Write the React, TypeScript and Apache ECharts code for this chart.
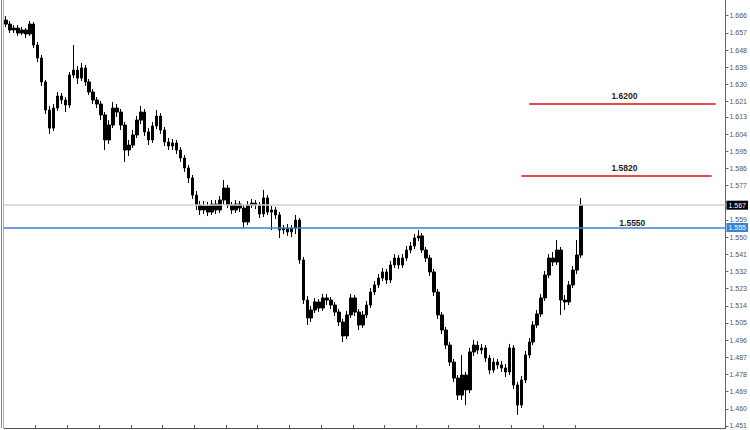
import React, { useEffect, useRef } from "react";
import * as echarts from "echarts";

// Right-hand price scale labels
const priceTicks = [
  "1.451", "1.460", "1.469", "1.478", "1.487", "1.496", "1.505", "1.514", "1.523",
  "1.532", "1.541", "1.550", "1.559", "1.568", "1.577", "1.586", "1.595", "1.604",
  "1.613", "1.621", "1.630", "1.639", "1.648", "1.657", "1.666",
];

// Bars: [open, close, low, high]
const bars: number[][] = [
  [1.6637, 1.6616, 1.6601, 1.6658], [1.6616, 1.6585, 1.6569, 1.6632], [1.6585, 1.6595, 1.6569, 1.6611],
  [1.6595, 1.6569, 1.6554, 1.6611], [1.6569, 1.6585, 1.6559, 1.6601], [1.6585, 1.6564, 1.6543, 1.6595],
  [1.6564, 1.6616, 1.6554, 1.6632], [1.6616, 1.6506, 1.6491, 1.6627], [1.6506, 1.6438, 1.6417, 1.6522],
  [1.6438, 1.6313, 1.6292, 1.6454], [1.6313, 1.6166, 1.6145, 1.6323], [1.6166, 1.6071, 1.6040, 1.6187],
  [1.6071, 1.6176, 1.6056, 1.6197], [1.6176, 1.6239, 1.6161, 1.6260], [1.6239, 1.6218, 1.6197, 1.6255],
  [1.6218, 1.6192, 1.6155, 1.6234], [1.6192, 1.6349, 1.6176, 1.6365], [1.6349, 1.6375, 1.6333, 1.6506],
  [1.6375, 1.6333, 1.6302, 1.6396], [1.6333, 1.6386, 1.6318, 1.6412], [1.6386, 1.6313, 1.6292, 1.6402],
  [1.6313, 1.6260, 1.6244, 1.6328], [1.6260, 1.6218, 1.6197, 1.6276], [1.6218, 1.6197, 1.6176, 1.6234],
  [1.6197, 1.6140, 1.6113, 1.6213], [1.6140, 1.6009, 1.5956, 1.6155], [1.6009, 1.6087, 1.5988, 1.6113],
  [1.6087, 1.6176, 1.6071, 1.6208], [1.6176, 1.6155, 1.6129, 1.6197], [1.6155, 1.6087, 1.6061, 1.6171],
  [1.6087, 1.5956, 1.5893, 1.6103], [1.5956, 1.5982, 1.5925, 1.6009], [1.5982, 1.6035, 1.5967, 1.6061],
  [1.6035, 1.6113, 1.6019, 1.6134], [1.6113, 1.6155, 1.6092, 1.6187], [1.6155, 1.6051, 1.6030, 1.6171],
  [1.6051, 1.6009, 1.5982, 1.6071], [1.6009, 1.6082, 1.5993, 1.6103], [1.6082, 1.6134, 1.6066, 1.6166],
  [1.6134, 1.6061, 1.6040, 1.6150], [1.6061, 1.5998, 1.5977, 1.6077], [1.5998, 1.5977, 1.5956, 1.6019],
  [1.5977, 1.5993, 1.5956, 1.6014], [1.5993, 1.5956, 1.5935, 1.6009], [1.5956, 1.5914, 1.5893, 1.5972],
  [1.5914, 1.5862, 1.5841, 1.5930], [1.5862, 1.5810, 1.5783, 1.5878], [1.5810, 1.5720, 1.5699, 1.5825],
  [1.5720, 1.5668, 1.5642, 1.5741], [1.5668, 1.5642, 1.5616, 1.5689], [1.5642, 1.5663, 1.5621, 1.5689],
  [1.5663, 1.5631, 1.5610, 1.5684], [1.5631, 1.5673, 1.5616, 1.5694], [1.5673, 1.5642, 1.5621, 1.5694],
  [1.5642, 1.5694, 1.5626, 1.5715], [1.5694, 1.5757, 1.5673, 1.5799], [1.5757, 1.5668, 1.5652, 1.5773],
  [1.5668, 1.5642, 1.5621, 1.5684], [1.5642, 1.5673, 1.5626, 1.5694], [1.5673, 1.5652, 1.5631, 1.5689],
  [1.5652, 1.5579, 1.5547, 1.5668], [1.5579, 1.5668, 1.5563, 1.5689], [1.5668, 1.5678, 1.5652, 1.5699],
  [1.5678, 1.5668, 1.5647, 1.5694], [1.5668, 1.5621, 1.5600, 1.5684], [1.5621, 1.5705, 1.5605, 1.5747],
  [1.5705, 1.5631, 1.5616, 1.5720], [1.5631, 1.5642, 1.5537, 1.5663], [1.5642, 1.5616, 1.5595, 1.5658],
  [1.5616, 1.5537, 1.5495, 1.5631], [1.5537, 1.5547, 1.5516, 1.5563], [1.5547, 1.5527, 1.5506, 1.5568],
  [1.5527, 1.5547, 1.5500, 1.5563], [1.5547, 1.5589, 1.5516, 1.5616], [1.5589, 1.5380, 1.5359, 1.5600],
  [1.5380, 1.5170, 1.5149, 1.5396], [1.5170, 1.5076, 1.5039, 1.5191], [1.5076, 1.5118, 1.5055, 1.5139],
  [1.5118, 1.5160, 1.5102, 1.5181], [1.5160, 1.5128, 1.5107, 1.5175], [1.5128, 1.5181, 1.5113, 1.5202],
  [1.5181, 1.5170, 1.5144, 1.5202], [1.5170, 1.5144, 1.5123, 1.5186], [1.5144, 1.5107, 1.5086, 1.5160],
  [1.5107, 1.5055, 1.5034, 1.5123], [1.5055, 1.4982, 1.4950, 1.5071], [1.4982, 1.5092, 1.4966, 1.5113],
  [1.5092, 1.5181, 1.5076, 1.5202], [1.5181, 1.5107, 1.5086, 1.5196], [1.5107, 1.5039, 1.5013, 1.5123],
  [1.5039, 1.5092, 1.5024, 1.5113], [1.5092, 1.5144, 1.5076, 1.5165], [1.5144, 1.5212, 1.5128, 1.5233],
  [1.5212, 1.5249, 1.5196, 1.5270], [1.5249, 1.5285, 1.5233, 1.5306], [1.5285, 1.5317, 1.5270, 1.5338],
  [1.5317, 1.5275, 1.5254, 1.5333], [1.5275, 1.5354, 1.5259, 1.5375], [1.5354, 1.5390, 1.5338, 1.5411],
  [1.5390, 1.5354, 1.5333, 1.5406], [1.5354, 1.5390, 1.5338, 1.5411], [1.5390, 1.5432, 1.5375, 1.5453],
  [1.5432, 1.5453, 1.5416, 1.5474], [1.5453, 1.5495, 1.5437, 1.5516], [1.5495, 1.5506, 1.5479, 1.5537],
  [1.5506, 1.5432, 1.5416, 1.5521], [1.5432, 1.5390, 1.5369, 1.5448], [1.5390, 1.5317, 1.5296, 1.5406],
  [1.5317, 1.5212, 1.5191, 1.5333], [1.5212, 1.5092, 1.5071, 1.5228], [1.5092, 1.5013, 1.4992, 1.5107],
  [1.5013, 1.4934, 1.4913, 1.5029], [1.4934, 1.4845, 1.4824, 1.4950], [1.4845, 1.4761, 1.4741, 1.4861],
  [1.4761, 1.4672, 1.4646, 1.4777], [1.4672, 1.4777, 1.4646, 1.4882], [1.4777, 1.4699, 1.4620, 1.4793],
  [1.4699, 1.4898, 1.4683, 1.4919], [1.4898, 1.4934, 1.4877, 1.4961], [1.4934, 1.4908, 1.4887, 1.4955],
  [1.4908, 1.4919, 1.4887, 1.4940], [1.4919, 1.4866, 1.4845, 1.4934], [1.4866, 1.4803, 1.4782, 1.4882],
  [1.4803, 1.4845, 1.4788, 1.4866], [1.4845, 1.4830, 1.4809, 1.4861], [1.4830, 1.4814, 1.4793, 1.4851],
  [1.4814, 1.4793, 1.4767, 1.4835], [1.4793, 1.4919, 1.4777, 1.4940], [1.4919, 1.4725, 1.4704, 1.4934],
  [1.4725, 1.4620, 1.4568, 1.4741], [1.4620, 1.4751, 1.4604, 1.4772], [1.4751, 1.4882, 1.4735, 1.4903],
  [1.4882, 1.4950, 1.4866, 1.4971], [1.4950, 1.5039, 1.4934, 1.5060], [1.5039, 1.5097, 1.5024, 1.5118],
  [1.5097, 1.5181, 1.5081, 1.5202], [1.5181, 1.5301, 1.5165, 1.5322], [1.5301, 1.5390, 1.5285, 1.5411],
  [1.5390, 1.5369, 1.5348, 1.5422], [1.5369, 1.5432, 1.5354, 1.5485], [1.5432, 1.5170, 1.5092, 1.5448],
  [1.5170, 1.5160, 1.5118, 1.5196], [1.5160, 1.5249, 1.5144, 1.5270], [1.5249, 1.5327, 1.5233, 1.5348],
  [1.5327, 1.5406, 1.5306, 1.5485], [1.5406, 1.5667, 1.5390, 1.5705],
];

// Time slots on the horizontal axis (bars plus the empty space to the right)
const slotCount = 182;
const slots = Array.from({ length: slotCount }, (_, i) => String(i + 1));

// Price levels
const lastPrice = 1.5667;
const supportLevel = 1.555;
const supportText = "1.5550";
const targets = [
  { value: 1.582, text: "1.5820", from: 130, to: 178, labelAt: 156 },
  { value: 1.62, text: "1.6200", from: 132, to: 179, labelAt: 156 },
];
const supportLabelAt = 158;

const priceMin = 1.44995;
const priceMax = 1.67422;

const FONT = "'Liberation Sans', Arial, sans-serif";

export default function App() {
  const ref = useRef<HTMLDivElement>(null);

  useEffect(() => {
    if (!ref.current) return;
    const chart = echarts.init(ref.current, undefined, { renderer: "svg" });
    const tickValues = priceTicks.map(Number);

    chart.setOption({
      animation: false,
      backgroundColor: "#ffffff",
      grid: { left: 4, right: 16, top: 0, bottom: 2, containLabel: false },
      xAxis: {
        type: "category",
        data: slots,
        boundaryGap: true,
        axisLine: { show: true, lineStyle: { color: "#555", width: 1 } },
        axisTick: {
          show: true,
          inside: true,
          length: 3,
          interval: (i: number) => i > 0 && i % 8 === 0 && i < bars.length,
          lineStyle: { color: "#555" },
        },
        axisLabel: { show: false },
        splitLine: { show: false },
      },
      yAxis: {
        type: "value",
        position: "right",
        min: priceMin,
        max: priceMax,
        splitLine: { show: false },
        axisLine: { show: true, lineStyle: { color: "#666", width: 1 } },
        axisTick: { show: true, length: 3, customValues: tickValues, lineStyle: { color: "#666" } },
        axisLabel: {
          show: true,
          customValues: tickValues,
          // the last-price tag sits over the nearest scale label
          formatter: (v: number) => (Math.abs(v - lastPrice) < 0.003 ? "" : v.toFixed(3)),
          fontSize: 7,
          color: "#555",
          margin: 4,
          fontFamily: FONT,
        },
      },
      graphic: [
        { type: "line", shape: { x1: 1.5, y1: 0, x2: 1.5, y2: 428 }, style: { stroke: "#8a8a8a", lineWidth: 1 } },
        { type: "line", shape: { x1: 3.5, y1: 0, x2: 3.5, y2: 428 }, style: { stroke: "#b0b0b0", lineWidth: 1 } },
      ],
      series: [
        {
          type: "candlestick",
          data: bars,
          barWidth: 3,
          itemStyle: {
            color: "#000",
            color0: "#000",
            borderColor: "#000",
            borderColor0: "#000",
            borderWidth: 1,
          },
          markLine: {
            silent: true,
            symbol: "none",
            precision: 4,
            data: [
              {
                yAxis: lastPrice,
                lineStyle: { color: "#d2d2d2", width: 1.5, type: "solid" },
                label: {
                  show: true,
                  position: "end",
                  distance: 1,
                  formatter: lastPrice.toFixed(3),
                  color: "#fff",
                  backgroundColor: "#000",
                  padding: [1, 2],
                  fontSize: 7,
                  fontFamily: FONT,
                },
              },
              {
                yAxis: supportLevel,
                lineStyle: { color: "#3b82d6", width: 1.5, type: "solid" },
                label: {
                  show: true,
                  position: "end",
                  distance: 1,
                  formatter: supportLevel.toFixed(3),
                  color: "#fff",
                  backgroundColor: "#3b82d6",
                  padding: [1, 2],
                  fontSize: 7,
                  fontFamily: FONT,
                },
              },
              ...targets.map((t) => [
                {
                  coord: [t.from, t.value],
                  lineStyle: { color: "#e8484a", width: 2, type: "solid" },
                  label: { show: false },
                },
                { coord: [t.to, t.value] },
              ]),
            ],
          },
          markPoint: {
            silent: true,
            symbol: "rect",
            symbolSize: 1,
            itemStyle: { color: "rgba(0,0,0,0)" },
            label: {
              show: true,
              position: "inside",
              color: "#222",
              fontSize: 8.5,
              fontWeight: "bold",
              fontFamily: FONT,
              formatter: (p: any) => p.name,
            },
            data: [
              ...targets.map((t) => ({
                name: t.text,
                coord: [t.labelAt, t.value],
                label: { offset: [0, -7.5] },
              })),
              { name: supportText, coord: [supportLabelAt, supportLevel], label: { offset: [0, -4.5] } },
            ],
          },
        },
      ],
    });

    return () => chart.dispose();
  }, []);

  return (
    <div
      ref={ref}
      style={{ position: "fixed", left: 0, top: 0, width: 750, height: 430, background: "#fff" }}
    />
  );
}
